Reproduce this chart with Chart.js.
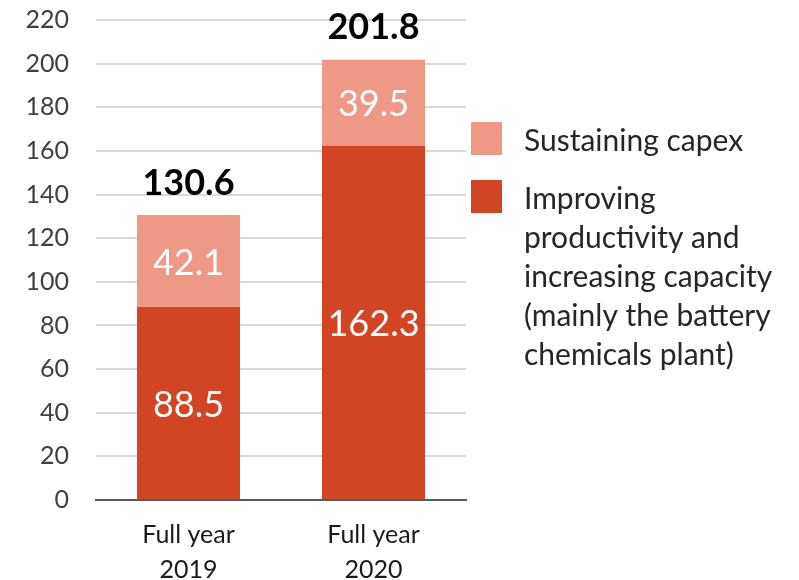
<!DOCTYPE html>
<html>
<head>
<meta charset="utf-8">
<script src="https://cdn.jsdelivr.net/npm/chart.js@4.4.1/dist/chart.umd.min.js"></script>
<style>
  html, body { margin: 0; padding: 0; background: #fff; }
  #wrap { position: relative; width: 799px; height: 580px; }
</style>
</head>
<body>
<div id="wrap"><canvas id="capexChart" width="799" height="580"></canvas></div>
<script>
const years = [["Full year", "2019"], ["Full year", "2020"]];
const improving = [88.5, 162.3];
const sustaining = [42.1, 39.5];
const totals = [130.6, 201.8];
const legendItems = [
    { color: '#EE9985', lines: ['Sustaining capex'] },
    { color: '#D14424', lines: ['Improving', 'productivity and', 'increasing capacity', '(mainly the battery', 'chemicals plant)'] },
];

const FONT = 'Lato, "Open Sans", sans-serif';

// value labels inside segments + bold totals on top
const labelPlugin = {
    id: 'barLabels',
    afterDatasetsDraw(chart) {
        const ctx = chart.ctx;
        ctx.save();
        ctx.textAlign = 'center';
        ctx.textBaseline = 'middle';
        chart.data.datasets.forEach((ds, i) => {
            const meta = chart.getDatasetMeta(i);
            meta.data.forEach((bar, j) => {
                ctx.fillStyle = '#ffffff';
                ctx.font = '36px ' + FONT;
                ctx.fillText(ds.data[j].toFixed(1), bar.x, (bar.y + bar.base) / 2 + 2);
            });
        });
        const yScale = chart.scales.y;
        const top = chart.getDatasetMeta(1);
        top.data.forEach((bar, j) => {
            ctx.fillStyle = '#000000';
            ctx.font = 'bold 36px ' + FONT;
            ctx.fillText(totals[j].toFixed(1), bar.x, yScale.getPixelForValue(totals[j]) - 32);
        });
        ctx.restore();
    }
};

// legend on the right side
const sideLegend = {
    id: 'sideLegend',
    afterDraw(chart) {
        const ctx = chart.ctx;
        ctx.save();
        ctx.textBaseline = 'middle';
        ctx.textAlign = 'left';
        ctx.font = '30px ' + FONT;
        let y = 122;
        legendItems.forEach(item => {
            ctx.fillStyle = item.color;
            ctx.fillRect(471, y, 31, 33);
            ctx.fillStyle = '#262626';
            item.lines.forEach((line, k) => {
                ctx.fillText(line, 524, y + 19 + k * 39);
            });
            y += 58;
        });
        ctx.restore();
    }
};

new Chart(document.getElementById('capexChart'), {
    type: 'bar',
    data: {
        labels: years,
        datasets: [
            {
                label: 'Improving productivity and increasing capacity (mainly the battery chemicals plant)',
                data: improving,
                backgroundColor: '#D14424',
                barPercentage: 0.557,
                categoryPercentage: 1.0,
            },
            {
                label: 'Sustaining capex',
                data: sustaining,
                backgroundColor: '#EE9985',
                barPercentage: 0.557,
                categoryPercentage: 1.0,
            },
        ],
    },
    options: {
        responsive: false,
        animation: false,
        layout: { padding: { top: 20, right: 333, left: 0, bottom: 0 } },
        plugins: {
            legend: { display: false },
            tooltip: { enabled: false },
        },
        scales: {
            x: {
                stacked: true,
                grid: { display: false, drawTicks: false },
                border: { color: '#595959', width: 2 },
                afterFit(scale) {
                    scale.height = 80;
                    scale.paddingLeft = 0;
                    scale.paddingRight = 0;
                },
                ticks: {
                    color: '#1a1a1a',
                    font: { family: FONT, size: 25, lineHeight: 1.4 },
                    padding: 17,
                },
            },
            y: {
                stacked: true,
                min: 0,
                max: 220,
                grid: { color: '#d9d9d9', lineWidth: 2, drawTicks: false },
                border: { display: false },
                afterFit(scale) {
                    scale.width = 96;
                    scale.paddingTop = 0;
                    scale.paddingBottom = 0;
                },
                ticks: {
                    stepSize: 20,
                    color: '#404040',
                    font: { family: FONT, size: 25 },
                    padding: 27,
                },
            },
        },
    },
    plugins: [labelPlugin, sideLegend],
});
</script>
</body>
</html>
